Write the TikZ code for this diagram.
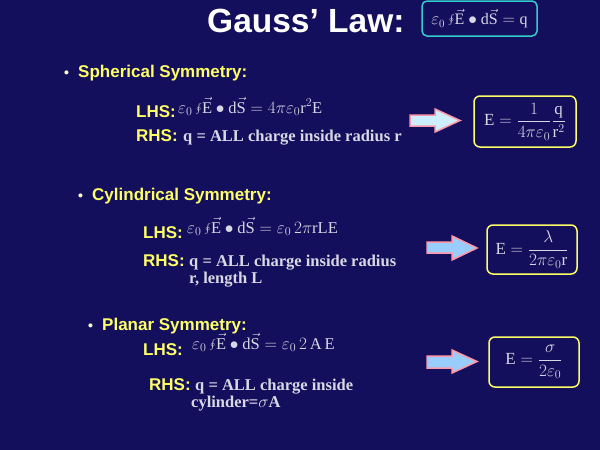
\documentclass[tikz,border=0pt]{standalone}
\usepackage{fontspec}
\setmainfont{Liberation Serif}
\newfontfamily\hv{Liberation Sans}
\definecolor{bg}{HTML}{140F5C}
\definecolor{ylw}{HTML}{FFFF66}
\definecolor{gry}{HTML}{D8D8E4}
\definecolor{pinkb}{HTML}{FF99AA}
\definecolor{lblueA}{HTML}{CCEEFF}
\definecolor{lblueB}{HTML}{99CCFF}
\definecolor{cyanb}{HTML}{33CCCC}
\newcommand\myVec[1]{\vec{\mathrm{#1}}}
\newcommand\myInt{\varepsilon_0\oint\!\myVec{E}\bullet\mathrm{d}\myVec{S}}
\begin{document}
\begin{tikzpicture}[x=1pt,y=-1pt,
  head/.style={font=\hv\bfseries\fontsize{17}{20}\selectfont, text=ylw, anchor=base west, inner sep=0},
  bul/.style={font=\hv\bfseries\fontsize{14}{16}\selectfont, text=ylw!40!white, anchor=base west, inner sep=0},
  eqn/.style={font=\fontsize{16.5}{18}\selectfont, text=gry, anchor=base west, inner sep=0},
  rhs/.style={font=\bfseries\fontsize{16.5}{17}\selectfont, text=gry, anchor=base west, inner sep=0},
  res/.style={draw=ylw, line width=1.5pt, rounded corners=6pt, text=gry, font=\fontsize{17}{19}\selectfont, inner sep=0},
  arrA/.style={draw=pinkb, line width=1.5pt, fill=lblueA},
  arrB/.style={draw=pinkb, line width=1.5pt, fill=lblueB}
]
\fill[bg] (0,0) rectangle (600,450);
\useasboundingbox (0,0) rectangle (600,450);

% title
\node[font=\hv\bfseries\fontsize{33.5}{40}\selectfont, text=white, anchor=base west, inner sep=0] (title) at (207,32) {Gauss’ Law:};
\node[draw=cyanb, line width=1.5pt, rounded corners=5pt, minimum width=115pt, minimum height=35pt, text=gry, font=\fontsize{16}{18}\selectfont, inner sep=0] (law) at (479.5,18.5) {$\myInt = \mathrm{q}$};

% spherical
\node[bul] (b1) at (64,77) {•};
\node[head] (h1) at (78,77) {Spherical Symmetry:};
\node[head] (l1) at (136,117) {LHS:};
\node[eqn] (e1) at (178,113) {$\myInt = 4\pi\varepsilon_0 \mathrm{r}^2 \mathrm{E}$};
\node[head] (r1) at (136,141) {RHS:};
\node[rhs] (t1) at (183,141) {q = ALL charge inside radius r};
\draw[arrA] (410,115)--(435,115)--(435,109)--(460,120.5)--(435,132)--(435,126)--(410,126)--cycle;
\node[res, minimum width=102pt, minimum height=51pt] (f1) at (525,121.5) {$\mathrm{E} = \displaystyle\frac{1}{4\pi\varepsilon_0}\frac{\mathrm{q}}{\mathrm{r}^2}$};

% cylindrical
\node[bul] (b2) at (78,200) {•};
\node[head] (h2) at (92,200) {Cylindrical Symmetry:};
\node[head] (l2) at (143,238) {LHS:};
\node[eqn] (e2) at (187,233) {$\myInt = \varepsilon_0\, 2\pi \mathrm{rLE}$};
\node[head] (r2) at (143,266) {RHS:};
\node[rhs] (t2) at (189,266) {q = ALL charge inside radius};
\node[rhs] (t2b) at (189,283) {r, length L};
\draw[arrB] (427,242)--(452,242)--(452,236)--(477,248)--(452,260)--(452,253)--(427,253)--cycle;
\node[res, minimum width=90pt, minimum height=49pt] (f2) at (532,249.5) {$\mathrm{E} = \displaystyle\frac{\lambda}{2\pi\varepsilon_0 \mathrm{r}}$};

% planar
\node[bul] (b3) at (88,330) {•};
\node[head] (h3) at (102,330) {Planar Symmetry:};
\node[head] (l3) at (143,355) {LHS:};
\node[eqn] (e3) at (192,349) {$\myInt = \varepsilon_0\, 2\,\mathrm{A}\,\mathrm{E}$};
\node[head] (r3) at (149,390) {RHS:};
\node[rhs] (t3) at (195,390) {q = ALL charge inside};
\node[rhs] (t3b) at (191,407) {cylinder=$\sigma$A};
\draw[arrB] (427,356)--(452,356)--(452,350)--(477,361.5)--(452,373)--(452,368)--(427,368)--cycle;
\node[res, minimum width=90pt, minimum height=50pt] (f3) at (534,362) {$\mathrm{E} = \displaystyle\frac{\sigma}{2\varepsilon_0}$};
\end{tikzpicture}
\end{document}
